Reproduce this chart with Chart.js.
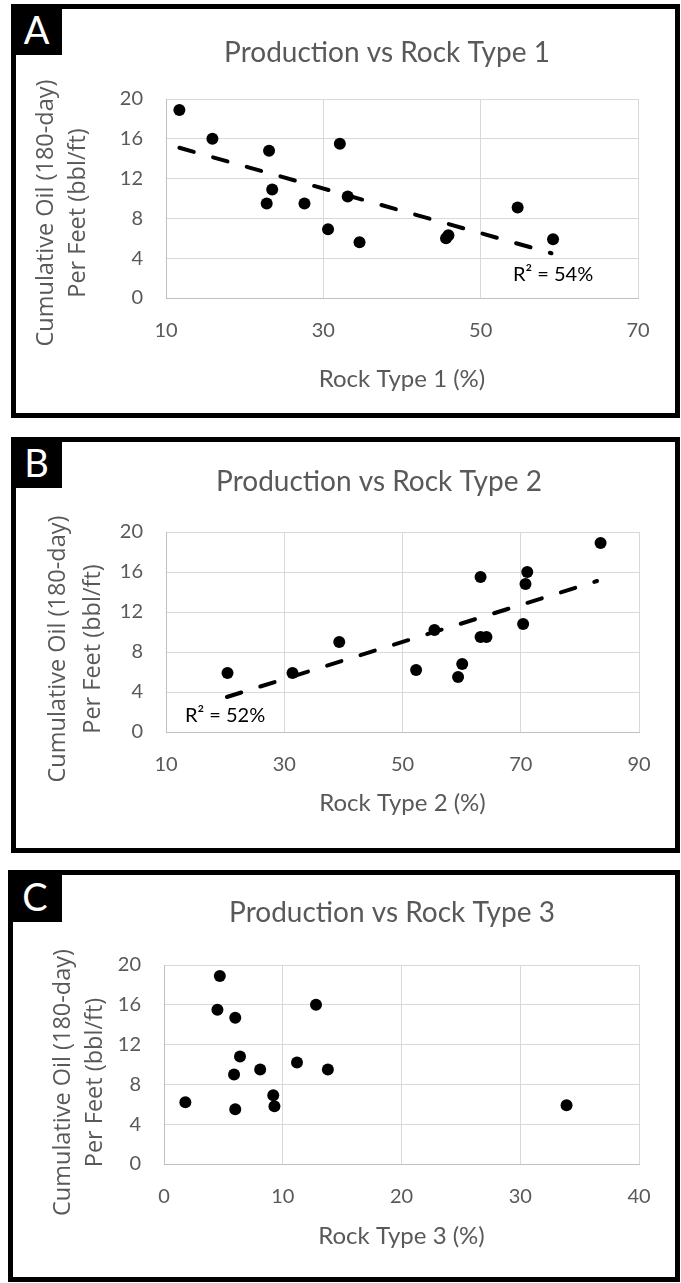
<!DOCTYPE html>
<html>
<head>
<meta charset="utf-8">
<script src="https://cdn.jsdelivr.net/npm/chart.js@4.4.0/dist/chart.umd.min.js"></script>
<style>
  body { margin: 0; background: #fff; width: 681px; height: 1283px; position: relative; overflow: hidden; }
  .panel { position: absolute; border: 5px solid #000; box-sizing: border-box; background: #fff; }
  .panel canvas { display: block; }
  .tag { position: absolute; background: #000; color: #fff; font-family: Lato, sans-serif; font-size: 38px; text-align: center; }
</style>
</head>
<body>
<div class="panel" style="left:11px;top:4px;width:669px;height:414px;"><canvas id="chartA" width="659" height="404"></canvas></div>
<div class="tag" style="left:11px;top:4px;width:51px;height:51px;line-height:51px;">A</div>

<div class="panel" style="left:11px;top:437px;width:669px;height:416px;"><canvas id="chartB" width="659" height="406"></canvas></div>
<div class="tag" style="left:11px;top:437px;width:51px;height:51px;line-height:51px;">B</div>

<div class="panel" style="left:8px;top:870px;width:672px;height:412px;"><canvas id="chartC" width="662" height="402"></canvas></div>
<div class="tag" style="left:8px;top:870px;width:54px;height:52px;line-height:52px;">C</div>

<script>
// values
var rock1X = [11.7, 15.9, 23.1, 32.1, 23.5, 22.8, 27.6, 33.1, 30.6, 34.6, 45.6, 45.9, 54.7, 59.2];
var rock1Y = [18.9, 16.0, 14.8, 15.5, 10.9, 9.5, 9.5, 10.2, 6.9, 5.6, 6.0, 6.3, 9.1, 5.9];
var trend1X = [11.7, 59.0];
var trend1Y = [15.1, 4.5];

var rock2X = [20.4, 31.4, 39.3, 52.3, 55.4, 59.4, 60.1, 63.2, 63.2, 64.2, 70.4, 70.8, 71.1, 83.5];
var rock2Y = [5.9, 5.9, 9.0, 6.2, 10.2, 5.5, 6.8, 15.5, 9.5, 9.5, 10.8, 14.8, 16.0, 18.9];
var trend2X = [20.3, 82.9];
var trend2Y = [3.5, 15.1];

var rock3X = [4.7, 4.5, 6.0, 12.8, 6.4, 5.9, 8.1, 11.2, 13.8, 1.8, 6.0, 9.2, 9.3, 33.9];
var rock3Y = [18.9, 15.5, 14.7, 16.0, 10.8, 9.0, 9.5, 10.2, 9.5, 6.2, 5.5, 6.9, 5.8, 5.9];

var yTitleLines = ["Cumulative Oil (180-day)", "Per Feet (bbl/ft)"];

function pairs(xs, ys) {
  var out = [];
  for (var i = 0; i < xs.length; i++) out.push({ x: xs[i], y: ys[i] });
  return out;
}

// chart title, y axis title (sits a bit below centre in the original) and the R² note
var panelText = {
  id: "panelText",
  afterDraw: function (chart) {
    var o = chart.options.plugins.panelText;
    var ctx = chart.ctx;
    var area = chart.chartArea;
    ctx.save();
    ctx.fillStyle = "#595959";
    ctx.textAlign = "center";
    ctx.textBaseline = "middle";
    ctx.font = "28px Lato";
    ctx.fillText(o.title, o.titleX, o.titleY);

    ctx.font = "23.5px 'Open Sans'";
    for (var i = 0; i < yTitleLines.length; i++) {
      ctx.save();
      ctx.translate(o.yTitleX[i], (area.top + area.bottom) / 2 + o.yTitleDy);
      ctx.rotate(-Math.PI / 2);
      ctx.fillText(yTitleLines[i], 0, 0);
      ctx.restore();
    }
    if (o.r2) {
      ctx.fillStyle = "#000";
      ctx.font = "20px Lato";
      ctx.textAlign = "left";
      ctx.fillText(o.r2.text, chart.scales.x.getPixelForValue(o.r2.x), chart.scales.y.getPixelForValue(o.r2.y));
    }
    ctx.restore();
  },
};

function makeChart(id, p) {
  var datasets = [];
  if (p.trendX) {
    datasets.push({
      type: "line",
      data: pairs(p.trendX, p.trendY),
      borderColor: "#000",
      borderWidth: 4,
      borderDash: [15, 20],
      borderCapStyle: "round",
      pointRadius: 0,
      fill: false,
    });
  }
  datasets.push({
    data: pairs(p.xs, p.ys),
    backgroundColor: "#000",
    borderWidth: 0,
    pointRadius: 6,
    pointHoverRadius: 6,
  });

  return new Chart(document.getElementById(id), {
    type: "scatter",
    data: { datasets: datasets },
    plugins: [panelText],
    options: {
      responsive: false,
      animation: false,
      layout: { padding: { left: 0, right: p.padRight, top: p.padTop, bottom: 0 } },
      plugins: {
        legend: { display: false },
        tooltip: { enabled: false },
        title: { display: false },
        panelText: {
          title: p.title, titleX: p.titleX, titleY: p.titleY,
          yTitleX: p.yTitleX, yTitleDy: p.yTitleDy, r2: p.r2,
        },
      },
      scales: {
        x: {
          type: "linear",
          min: p.xMin,
          max: p.xMax,
          afterFit: function (scale) { scale.height = p.xHeight; },
          ticks: { stepSize: p.xStep, color: "#595959", font: { family: "Lato", size: 20 }, padding: 21, maxRotation: 0 },
          grid: { color: "#d9d9d9", lineWidth: 1, drawTicks: false },
          border: { color: "#bfbfbf" },
          title: {
            display: true,
            text: p.xTitle,
            color: "#595959",
            font: { family: "Lato", size: 24, lineHeight: 1.2 },
            padding: { top: 0, bottom: p.xTitlePad },
          },
        },
        y: {
          min: 0,
          max: 20,
          afterFit: function (scale) { scale.width = p.yWidth; },
          ticks: { stepSize: 4, color: "#595959", font: { family: "Lato", size: 20 }, padding: 23 },
          grid: { color: "#d9d9d9", lineWidth: 1, drawTicks: false },
          border: { color: "#bfbfbf" },
        },
      },
    },
  });
}

makeChart("chartA", {
  xs: rock1X, ys: rock1Y, trendX: trend1X, trendY: trend1Y,
  title: "Production vs Rock Type 1", xTitle: "Rock Type 1 (%)",
  xMin: 10, xMax: 70, xStep: 20,
  padTop: 90, padRight: 37, yWidth: 150, xHeight: 115, xTitlePad: 19.6,
  titleX: 371, titleY: 44,
  yTitleX: [30.7, 62], yTitleDy: 14.5,
  r2: { text: "R² = 54%", x: 54.1, y: 2.4 },
});

makeChart("chartB", {
  xs: rock2X, ys: rock2Y, trendX: trend2X, trendY: trend2Y,
  title: "Production vs Rock Type 2", xTitle: "Rock Type 2 (%)",
  xMin: 10, xMax: 90, xStep: 20,
  padTop: 90, padRight: 36, yWidth: 150, xHeight: 116, xTitlePad: 30.6,
  titleX: 363, titleY: 40,
  yTitleX: [42.6, 77.4], yTitleDy: 17,
  r2: { text: "R² = 52%", x: 13.2, y: 1.67 },
});

makeChart("chartC", {
  xs: rock3X, ys: rock3Y,
  title: "Production vs Rock Type 3", xTitle: "Rock Type 3 (%)",
  xMin: 0, xMax: 40, xStep: 10,
  padTop: 90, padRight: 36, yWidth: 151, xHeight: 113, xTitlePad: 26.6,
  titleX: 379, titleY: 37.5,
  yTitleX: [50, 82.6], yTitleDy: 18,
  r2: null,
});
</script>
</body>
</html>
